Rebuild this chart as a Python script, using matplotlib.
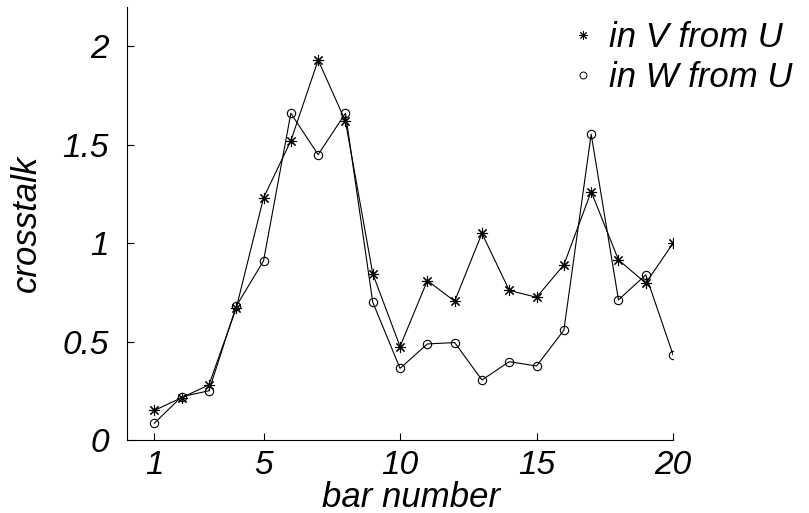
import matplotlib.pyplot as plt
from matplotlib.lines import Line2D

plt.rcParams['font.family'] = ['Liberation Sans', 'DejaVu Sans']
plt.rcParams['font.style'] = 'italic'

bar_number = list(range(1, 21))
in_v_from_u = [0.15, 0.215, 0.28, 0.67, 1.23, 1.52, 1.93, 1.62, 0.845, 0.475,
               0.81, 0.705, 1.05, 0.76, 0.725, 0.89, 1.262, 0.915, 0.797, 1.0]
in_w_from_u = [0.085, 0.22, 0.25, 0.68, 0.91, 1.66, 1.45, 1.66, 0.70, 0.364,
               0.488, 0.495, 0.305, 0.398, 0.376, 0.558, 1.554, 0.712, 0.839, 0.432]
xticks = [1, 5, 10, 15, 20]
yticks = [0, 0.5, 1, 1.5, 2]

fig = plt.figure(figsize=(8.09, 5.13), dpi=100)
ax = fig.add_axes([0.157, 0.1423, 0.675, 0.8441])

ax.plot(bar_number, in_v_from_u, color='black', linewidth=0.8,
        marker=(8, 2, 0), markersize=8, markeredgewidth=0.8)
ax.plot(bar_number, in_w_from_u, color='black', linewidth=0.8,
        marker='o', markersize=6, markerfacecolor='none', markeredgewidth=0.8)

ax.set_xlim(0, 20)
ax.set_ylim(0, 2.2)
ax.set_xticks(xticks)
ax.set_xticklabels([str(t) for t in xticks])
ax.set_yticks(yticks)
ax.set_yticklabels(['0', '0.5', '1', '1.5', '2'])
ax.tick_params(direction='in', length=5, width=0.8, labelsize=24)
ax.tick_params(axis='x', pad=7)
ax.tick_params(axis='y', pad=13)

for s in ['top', 'right']:
    ax.spines[s].set_visible(False)
for s in ['left', 'bottom']:
    ax.spines[s].set_linewidth(0.8)

ax.set_xlabel('bar number', fontsize=25)
ax.set_ylabel('crosstalk', fontsize=25, labelpad=14)
ax.xaxis.set_label_coords(0.52, -0.095)

handles = [Line2D([], [], color='black', linestyle='none', marker=(8, 2, 0),
                  markersize=6, markeredgewidth=0.7),
           Line2D([], [], color='black', linestyle='none', marker='o',
                  markersize=5, markerfacecolor='none', markeredgewidth=0.7)]
ax.legend(handles, ['in V from U', 'in W from U'], loc='upper right',
          bbox_to_anchor=(1.018, 1.02), bbox_transform=fig.transFigure,
          frameon=False, fontsize=25, handlelength=0.8,
          handletextpad=0.35, labelspacing=0.2)

fig.savefig('out.png', dpi=100)
